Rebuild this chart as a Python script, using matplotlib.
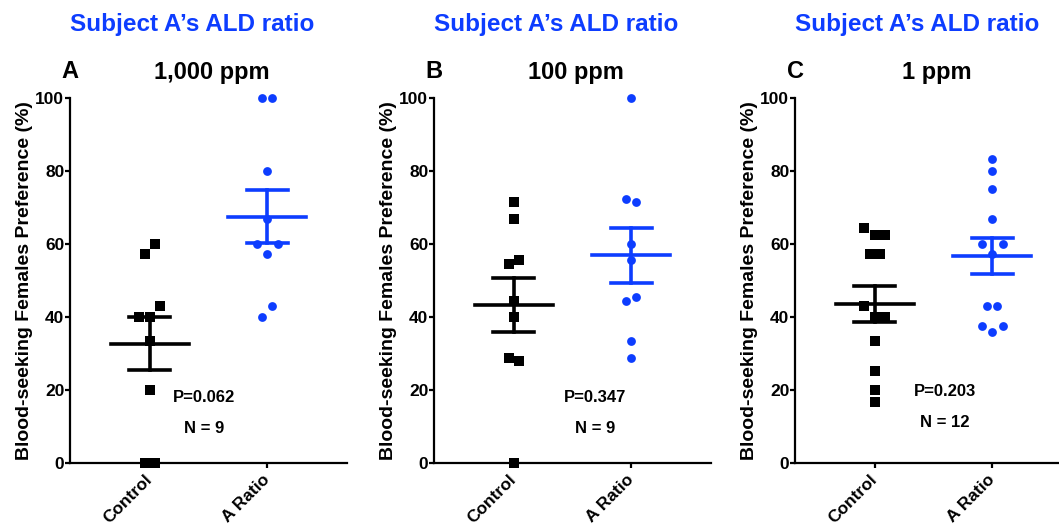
import numpy as np
import matplotlib
matplotlib.use("Agg")
import matplotlib.pyplot as plt

plt.rcParams['font.family'] = ['Liberation Sans', 'DejaVu Sans']
plt.rcParams['font.weight'] = 'bold'

# Data (listed row by row, left to right)

panels = ["A", "B", "C"]
doses = ["1,000 ppm", "100 ppm", "1 ppm"]
groups = ["Control", "A Ratio"]

control_1000 = [57.1, 60.0, 40.0, 40.0, 42.9, 33.3, 20.0, 0.0, 0.0]
ratio_1000 = [100.0, 100.0, 80.0, 66.7, 60.0, 57.1, 60.0, 40.0, 42.9]

control_100 = [71.4, 66.7, 54.5, 55.6, 44.4, 40.0, 28.6, 27.8, 0.0]
ratio_100 = [100.0, 72.2, 71.4, 60.0, 55.6, 44.4, 45.5, 33.3, 28.6]

control_1 = [64.3, 62.5, 62.5, 57.1, 57.1, 42.9, 40.0, 40.0, 33.3, 25.0, 20.0, 16.7]
ratio_1 = [83.3, 80.0, 75.0, 66.7, 60.0, 57.1, 60.0, 42.9, 42.9, 37.5, 35.7, 37.5]

p_values = ["P=0.062", "P=0.347", "P=0.203"]
n_labels = ["N = 9", "N = 9", "N = 12"]

blue = "#0d3dff"


def swarm_offsets(vals, tol=3.1, step=0.09):
    # points closer than tol get put side by side, centred on the column
    offs = np.zeros(len(vals))
    i = 0
    while i < len(vals):
        j = i + 1
        while j < len(vals) and abs(vals[j] - vals[i]) < tol:
            j += 1
        n = j - i
        offs[i:j] = (np.arange(n) - (n - 1) / 2) * step
        i = j
    return offs


def mean_sem(ax, x, vals, color):
    vals = np.array(vals)
    m = vals.mean()
    sem = vals.std(ddof=1) / np.sqrt(len(vals))
    ax.plot([x - 0.33, x + 0.33], [m, m], color=color, lw=2.6, zorder=4)
    ax.plot([x, x], [m - sem, m + sem], color=color, lw=2.6, zorder=4)
    for yy in (m - sem, m + sem):
        ax.plot([x - 0.175, x + 0.175], [yy, yy], color=color, lw=2.6, zorder=4)


fig = plt.figure(figsize=(10.59, 5.25), dpi=100)

lefts = [70, 434, 795]
data = [(control_1000, ratio_1000), (control_100, ratio_100), (control_1, ratio_1)]
text_x = [0.46, 0.69, 0.60]
text_y = [(18.0, 9.5), (18.0, 9.5), (19.4, 10.9)]

for k in range(3):
    left = lefts[k]
    ax = fig.add_axes([left / 1059, 62.3 / 525, 277 / 1059, 365 / 525])

    ctrl, ratio = data[k]

    ax.scatter(np.zeros(len(ctrl)) + swarm_offsets(ctrl), ctrl,
               marker='s', s=55, color='black', linewidths=0,
               clip_on=False, zorder=3)
    ax.scatter(np.ones(len(ratio)) + swarm_offsets(ratio), ratio,
               marker='o', s=40, color=blue, linewidths=0,
               clip_on=False, zorder=3)

    mean_sem(ax, 0, ctrl, 'black')
    mean_sem(ax, 1, ratio, blue)

    ax.set_xlim(-0.68, 1.68)
    ax.set_ylim(0, 100)
    ax.set_yticks([0, 20, 40, 60, 80, 100])
    ax.set_xticks([0, 1])
    ax.set_xticklabels(groups, rotation=45, ha='right', va='center',
                       rotation_mode='anchor', fontsize=12.5, fontweight='bold')

    for s in ['top', 'right']:
        ax.spines[s].set_visible(False)
    for s in ['left', 'bottom']:
        ax.spines[s].set_linewidth(1.6)

    ax.tick_params(axis='y', length=3.6, width=1.6, pad=0.5, labelsize=12.5)
    ax.tick_params(axis='x', length=3.6, width=1.6, pad=7)

    ax.set_ylabel("Blood-seeking Females Preference (%)", fontsize=14,
                  fontweight='bold')
    ax.yaxis.set_label_coords(-0.135, 0.5)

    ax.text(text_x[k], text_y[k][0], p_values[k], ha='center', va='center',
            fontsize=12, fontweight='bold')
    ax.text(text_x[k], text_y[k][1], n_labels[k], ha='center', va='center',
            fontsize=12, fontweight='bold')

    # panel letter, dose and blue header
    fig.text(left / 1059, 1 - 72 / 525, panels[k], ha='center', va='center',
             fontsize=17, fontweight='bold')
    fig.text((left + 142) / 1059, 1 - 72 / 525, doses[k], ha='center',
             va='center', fontsize=17, fontweight='bold')
    fig.text((left + 122) / 1059, 1 - 24 / 525, "Subject A\u2019s ALD ratio",
             ha='center', va='center', fontsize=17.5, fontweight='bold',
             color=blue)

fig.savefig("out.png", dpi=100)
